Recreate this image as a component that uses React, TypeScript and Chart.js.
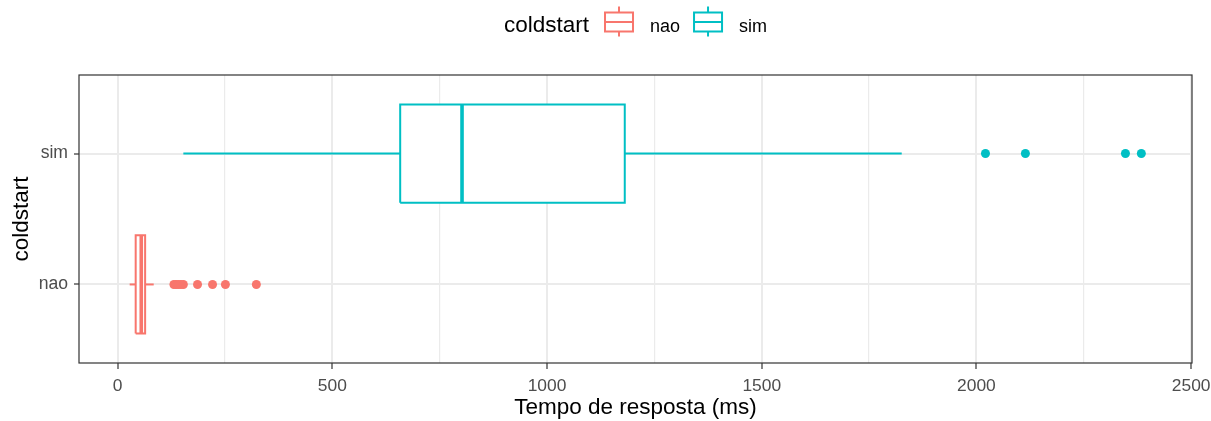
import { useEffect, useRef } from 'react';
import { Chart, registerables } from 'chart.js';

Chart.register(...registerables);

// Response-time distributions per cold-start group
const groups = ['nao', 'sim'];
const groupColors = ['#F8766D', '#00BFC4'];
const whiskerLow = [28, 153];
const q1 = [42, 658];
const median = [55, 802];
const q3 = [64, 1181];
const whiskerHigh = [84, 1826];
const outliersNao = [131, 136, 141, 147, 153, 186, 221, 251, 323];
const outliersSim = [2021, 2114, 2347, 2384];
const outliers = [outliersNao, outliersSim];

const xMajorTicks = [0, 500, 1000, 1500, 2000, 2500];
const xMinorTicks = [250, 750, 1250, 1750, 2250];

const legendTitle = 'coldstart';
const xTitle = 'Tempo de resposta (ms)';
const yTitle = 'coldstart';

const FONT = '"Liberation Sans", Arial, Helvetica, sans-serif';
const BOX_HALF = 0.375;
const GRID = '#EBEBEB';
const DARK = '#333333';

function buildDatasets() {
  const sets: any[] = [];
  groups.forEach((_, i) => {
    const y = i + 1;
    const color = groupColors[i];
    const line = {
      showLine: true,
      pointRadius: 0,
      borderColor: color,
      borderWidth: 2,
      borderCapStyle: 'butt',
      borderJoinStyle: 'miter',
      fill: false,
    };
    // whiskers
    sets.push({ ...line, order: 4, data: [{ x: whiskerLow[i], y }, { x: q1[i], y }] });
    sets.push({ ...line, order: 4, data: [{ x: q3[i], y }, { x: whiskerHigh[i], y }] });
    // box (white filled)
    sets.push({
      ...line,
      order: 3,
      fill: 'shape',
      backgroundColor: '#FFFFFF',
      data: [
        { x: q1[i], y: y - BOX_HALF },
        { x: q3[i], y: y - BOX_HALF },
        { x: q3[i], y: y + BOX_HALF },
        { x: q1[i], y: y + BOX_HALF },
        { x: q1[i], y: y - BOX_HALF },
      ],
    });
    // median
    sets.push({
      ...line,
      order: 2,
      borderWidth: 3.6,
      data: [{ x: median[i], y: y - BOX_HALF }, { x: median[i], y: y + BOX_HALF }],
    });
    // outliers
    sets.push({
      order: 1,
      showLine: false,
      pointRadius: 4.5,
      pointBackgroundColor: color,
      pointBorderWidth: 0,
      data: outliers[i].map((v) => ({ x: v, y })),
    });
  });
  return sets;
}

const panelBorder = {
  id: 'panelBorder',
  afterDatasetsDraw(chart: any) {
    const { ctx, chartArea: a } = chart;
    ctx.save();
    ctx.strokeStyle = DARK;
    ctx.lineWidth = 1.2;
    ctx.strokeRect(a.left, a.top, a.right - a.left, a.bottom - a.top);
    ctx.restore();
  },
};

const boxLegend = {
  id: 'boxLegend',
  afterDraw(chart: any) {
    const { ctx, chartArea: a } = chart;
    ctx.save();
    const baseline = 31.5;
    const keyCenter = 22;
    const keyW = 28;
    const keyH = 19;
    ctx.font = `22.5px ${FONT}`;
    const titleW = ctx.measureText(legendTitle).width;
    ctx.font = `18px ${FONT}`;
    const labelWs = groups.map((g) => ctx.measureText(g).width);
    const gapTitle = 16;
    const gapKey = 17;
    const gapItem = 14;
    let total = titleW + gapTitle;
    labelWs.forEach((w, i) => {
      total += keyW + gapKey + w + (i < labelWs.length - 1 ? gapItem : 0);
    });
    let x = (a.left + a.right) / 2 - total / 2;
    ctx.fillStyle = '#000000';
    ctx.textBaseline = 'alphabetic';
    ctx.textAlign = 'left';
    ctx.font = `22.5px ${FONT}`;
    ctx.fillText(legendTitle, x, baseline);
    x += titleW + gapTitle;
    ctx.font = `18px ${FONT}`;
    groups.forEach((g, i) => {
      const c = groupColors[i];
      ctx.strokeStyle = c;
      ctx.lineWidth = 2;
      const top = keyCenter - keyH / 2;
      const bot = keyCenter + keyH / 2;
      const mid = x + keyW / 2;
      ctx.beginPath();
      ctx.moveTo(mid, top - 6);
      ctx.lineTo(mid, top);
      ctx.moveTo(mid, bot);
      ctx.lineTo(mid, bot + 5);
      ctx.moveTo(x, keyCenter);
      ctx.lineTo(x + keyW, keyCenter);
      ctx.stroke();
      ctx.strokeRect(x, top, keyW, keyH);
      x += keyW + gapKey;
      ctx.fillStyle = '#000000';
      ctx.fillText(g, x, baseline);
      x += labelWs[i] + gapItem;
    });
    ctx.restore();
  },
};

export default function App() {
  const ref = useRef<HTMLCanvasElement | null>(null);

  useEffect(() => {
    document.body.style.margin = '0';
    const canvas = ref.current;
    if (!canvas) return;
    Chart.defaults.font.family = FONT;
    const xTickValues = [...xMajorTicks, ...xMinorTicks].sort((p, q) => p - q);
    const isMajor = (v: number) => xMajorTicks.includes(v);

    const chart = new Chart(canvas, {
      type: 'scatter',
      data: { datasets: buildDatasets() },
      plugins: [panelBorder, boxLegend],
      options: {
        animation: false,
        responsive: false,
        events: [],
        layout: { padding: { top: 75, right: 19, bottom: 0, left: 0 } },
        plugins: { legend: { display: false }, tooltip: { enabled: false } },
        scales: {
          x: {
            type: 'linear',
            min: -90,
            max: 2502,
            border: { display: false },
            afterBuildTicks: (s: any) => {
              s.ticks = xTickValues.map((v) => ({ value: v }));
            },
            afterFit: (s: any) => {
              s.height = 58;
              s.paddingLeft = 0;
              s.paddingRight = 0;
            },
            grid: {
              color: GRID,
              lineWidth: (c: any) => (isMajor(c.tick?.value) ? 2 : 1.2),
              tickColor: (c: any) => (isMajor(c.tick?.value) ? DARK : 'rgba(0,0,0,0)'),
              tickLength: 6,
              tickWidth: 1.2,
            },
            ticks: {
              autoSkip: false,
              maxRotation: 0,
              padding: 7,
              color: '#4D4D4D',
              font: { size: 17.4, family: FONT },
              callback: (v: any) => (isMajor(Number(v)) ? String(v) : ''),
            },
            title: {
              display: true,
              text: xTitle,
              color: '#000000',
              font: { size: 22.5, family: FONT, lineHeight: 1.2 },
              padding: { top: 0, bottom: 0 },
            },
          },
          y: {
            type: 'linear',
            min: 0.4,
            max: 2.6,
            border: { display: false },
            afterBuildTicks: (s: any) => {
              s.ticks = groups.map((_, i) => ({ value: i + 1 }));
            },
            afterFit: (s: any) => {
              s.width = 79;
              s.paddingTop = 0;
              s.paddingBottom = 0;
            },
            grid: {
              color: GRID,
              lineWidth: 2,
              tickColor: DARK,
              tickLength: 5,
              tickWidth: 1.2,
            },
            ticks: {
              autoSkip: false,
              padding: 6,
              color: '#4D4D4D',
              font: { size: 17.6, family: FONT },
              callback: (v: any) => groups[Number(v) - 1] ?? '',
            },
            title: {
              display: true,
              text: yTitle,
              color: '#000000',
              font: { size: 22.5, family: FONT, lineHeight: 1.2 },
              padding: { top: 8, bottom: 0 },
            },
          },
        },
      } as any,
    });
    return () => chart.destroy();
  }, []);

  return (
    <canvas
      ref={ref}
      width={1211}
      height={421}
      style={{ display: 'block', position: 'absolute', left: 0, top: 0 }}
    />
  );
}
